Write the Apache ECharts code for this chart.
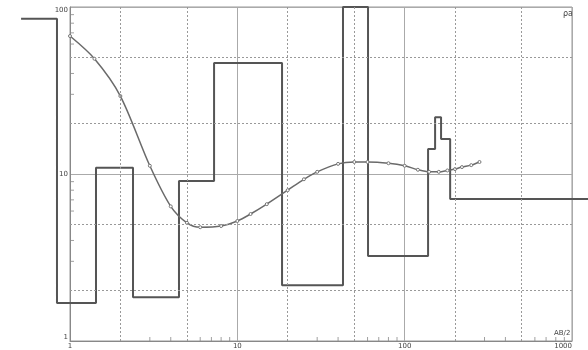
<!DOCTYPE html>
<html>
<head>
<meta charset="utf-8">
<script src="https://cdn.jsdelivr.net/npm/echarts@6/dist/echarts.min.js"></script>
<style>
  html, body { margin: 0; padding: 0; background: #fff; }
  #chart { width: 588px; height: 350px; }
</style>
</head>
<body>
<div id="chart"></div>
<script>
// Layered model: AB/2 positions of the layer steps and the resistivity of each step
const stepEdges = [0.51, 0.836, 1.43, 2.38, 4.48, 7.26, 18.5, 42.8, 60.4, 138, 152, 165, 187, 1246];
const stepRho = [85, 1.69, 10.9, 1.83, 9.08, 46.2, 2.16, 100, 3.23, 14.1, 21.9, 16.2, 7.09];

// Apparent resistivity sounding curve
const abHalf = [1, 1.4, 2, 3, 4, 5, 6, 8, 10, 12, 15, 20, 25, 30, 40, 50, 60, 80, 100, 120, 140, 160, 180, 200, 220, 250, 280];
const rhoA = [67, 49, 29.3, 11.2, 6.4, 5.1, 4.8, 4.88, 5.23, 5.76, 6.6, 8.0, 9.3, 10.3, 11.5, 11.8, 11.8, 11.6, 11.2, 10.6, 10.3, 10.3, 10.5, 10.7, 11.0, 11.3, 11.8];

// Axis ticks
const xTicks = [1, 10, 100, 1000];
const yTicks = [1, 10, 100];
const dottedX = [2, 5, 20, 50, 200, 500];
const dottedY = [2, 5, 20, 50];
const minorX = [3, 4, 6, 7, 8, 9, 30, 40, 60, 70, 80, 90, 300, 400, 600, 700, 800, 900];
const minorY = [3, 4, 6, 7, 8, 9, 30, 40, 60, 70, 80, 90];

// Plot box inside the 588 x 350 canvas
const W = 588, PLOT_LEFT = 70, PLOT_RIGHT = 572, PLOT_TOP = 7, PLOT_BOTTOM = 9;

// The model line runs past both sides of the plot box, so it sits on a second,
// full-width log axis with the same decade length as the visible one.
const decadePx = (PLOT_RIGHT - PLOT_LEFT) / Math.log10(xTicks[xTicks.length - 1] / xTicks[0]);
const wideMin = xTicks[0] * Math.pow(10, -PLOT_LEFT / decadePx);
const wideMax = xTicks[xTicks.length - 1] * Math.pow(10, (W - PLOT_RIGHT) / decadePx);

// Corner points of the step line
const stepPoints = [];
for (let i = 0; i < stepRho.length; i++) {
  stepPoints.push([stepEdges[i], stepRho[i]]);
  stepPoints.push([stepEdges[i + 1], stepRho[i]]);
}

const curvePoints = abHalf.map((x, i) => [x, rhoA[i]]);

const gridMarks = [];
dottedX.forEach(v => gridMarks.push({ xAxis: v }));
dottedY.forEach(v => gridMarks.push({ yAxis: v }));

const chart = echarts.init(document.getElementById('chart'), null, { renderer: 'canvas' });

const labelStyle = { fontSize: 7, color: '#444', fontFamily: 'DejaVu Sans' };

chart.setOption({
  animation: false,
  backgroundColor: '#fff',
  grid: [
    {
      left: PLOT_LEFT, right: W - PLOT_RIGHT, top: PLOT_TOP, bottom: PLOT_BOTTOM,
      show: true, borderColor: '#999', borderWidth: 1
    },
    { left: 0, right: 0, top: PLOT_TOP, bottom: PLOT_BOTTOM, show: false }
  ],
  xAxis: [
    {
      type: 'log', logBase: 10, gridIndex: 0,
      min: xTicks[0], max: xTicks[xTicks.length - 1],
      axisLine: { show: true, lineStyle: { color: '#888', width: 1 } },
      axisTick: { show: false },
      splitLine: { show: true, lineStyle: { color: '#aaa', width: 1 } },
      axisLabel: Object.assign({ margin: 2, alignMaxLabel: 'right', formatter: v => String(v) }, labelStyle)
    },
    {
      type: 'log', logBase: 10, gridIndex: 1, show: false,
      min: wideMin, max: wideMax
    }
  ],
  yAxis: [
    {
      type: 'log', logBase: 10, gridIndex: 0,
      min: yTicks[0], max: yTicks[yTicks.length - 1],
      axisLine: { show: true, lineStyle: { color: '#888', width: 1 } },
      axisTick: { show: false },
      splitLine: { show: true, lineStyle: { color: '#aaa', width: 1 } },
      axisLabel: Object.assign({ margin: 2, verticalAlignMinLabel: 'bottom', verticalAlignMaxLabel: 'top', formatter: v => String(v) }, labelStyle)
    },
    {
      type: 'log', logBase: 10, gridIndex: 1, show: false,
      min: yTicks[0], max: yTicks[yTicks.length - 1]
    }
  ],
  graphic: [
    { type: 'text', left: 554, top: 330, style: { text: 'AB/2', fontSize: 7, fill: '#444', fontFamily: 'DejaVu Sans' } },
    { type: 'text', left: 563, top: 10, style: { text: 'ρa', fontSize: 8, fill: '#444', fontFamily: 'DejaVu Sans' } }
  ],
  series: [
    {
      // minor ticks on the bottom axis, plus the dotted grid
      type: 'scatter',
      xAxisIndex: 0, yAxisIndex: 0,
      silent: true,
      clip: false,
      symbol: 'rect',
      symbolSize: [1, 4],
      symbolOffset: [0, -2],
      itemStyle: { color: '#888' },
      data: minorX.map(v => [v, yTicks[0]]),
      markLine: {
        silent: true,
        symbol: 'none',
        label: { show: false },
        lineStyle: { color: '#999', width: 1, type: [2, 2] },
        data: gridMarks
      },
      z: 1
    },
    {
      // minor ticks on the left axis
      type: 'scatter',
      xAxisIndex: 0, yAxisIndex: 0,
      silent: true,
      clip: false,
      symbol: 'rect',
      symbolSize: [4, 1],
      symbolOffset: [2, 0],
      itemStyle: { color: '#888' },
      data: minorY.map(v => [xTicks[0], v]),
      z: 1
    },
    {
      name: 'model',
      type: 'line',
      xAxisIndex: 1, yAxisIndex: 1,
      clip: false,
      showSymbol: false,
      lineStyle: { color: '#555', width: 2 },
      data: stepPoints,
      z: 3
    },
    {
      name: 'rhoA',
      type: 'line',
      xAxisIndex: 0, yAxisIndex: 0,
      smooth: 0.3,
      clip: false,
      symbol: 'circle',
      symbolSize: 3,
      showSymbol: true,
      itemStyle: { color: '#fff', borderColor: '#777', borderWidth: 1 },
      lineStyle: { color: '#6a6a6a', width: 1.5 },
      data: curvePoints,
      z: 4
    }
  ]
});
</script>
</body>
</html>
